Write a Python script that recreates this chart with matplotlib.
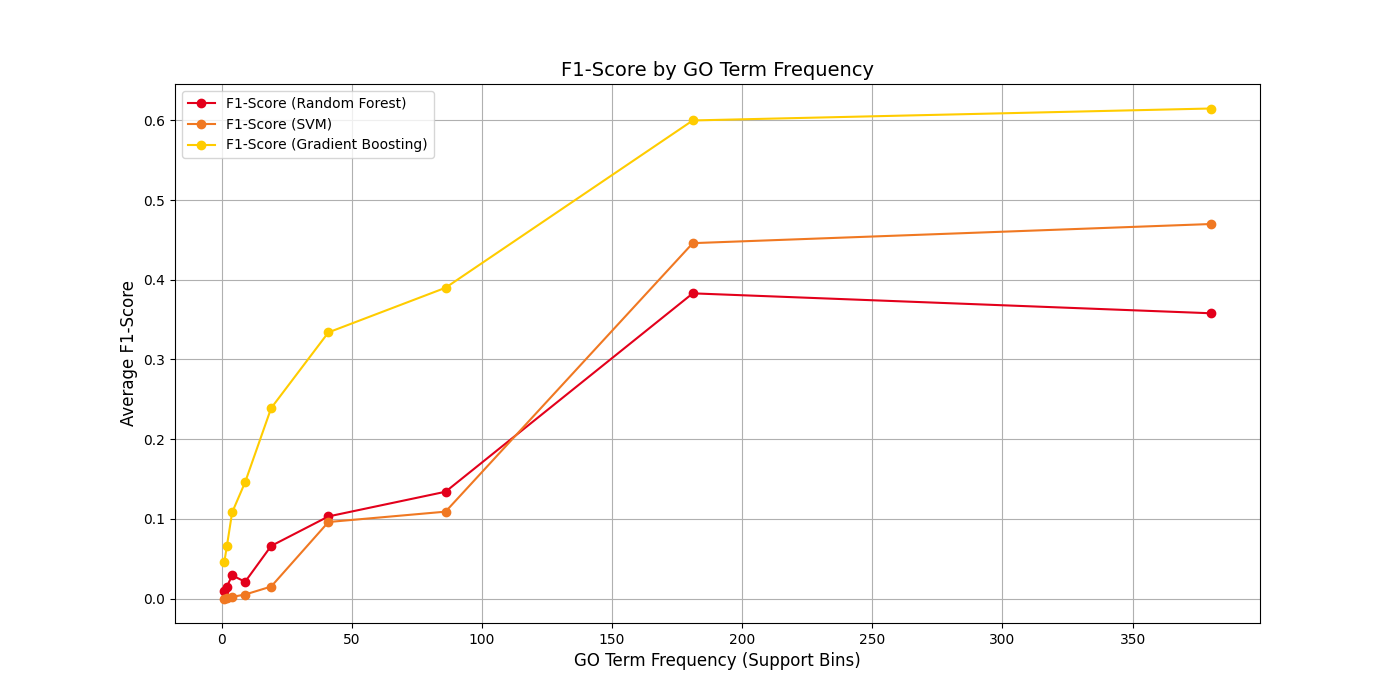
import matplotlib
matplotlib.use("Agg")
import matplotlib.pyplot as plt

support_bins = [1, 2, 4, 9, 19, 41, 86, 181, 380]
f1_rf = [0.010, 0.015, 0.029, 0.021, 0.066, 0.103, 0.134, 0.383, 0.358]
f1_svm = [0.000, 0.001, 0.002, 0.005, 0.015, 0.096, 0.109, 0.446, 0.470]
f1_gb = [0.046, 0.066, 0.108, 0.146, 0.239, 0.334, 0.390, 0.600, 0.615]

fig, ax = plt.subplots(figsize=(14, 7), dpi=100)
ax.plot(support_bins, f1_rf, marker='o', color='#E3001B', label='F1-Score (Random Forest)')
ax.plot(support_bins, f1_svm, marker='o', color='#F07822', label='F1-Score (SVM)')
ax.plot(support_bins, f1_gb, marker='o', color='#FFCC00', label='F1-Score (Gradient Boosting)')
ax.set_title('F1-Score by GO Term Frequency', fontsize=14)
ax.set_xlabel('GO Term Frequency (Support Bins)', fontsize=12)
ax.set_ylabel('Average F1-Score', fontsize=12)
ax.grid(True)
ax.legend(loc='upper left')
fig.savefig('out.png')
